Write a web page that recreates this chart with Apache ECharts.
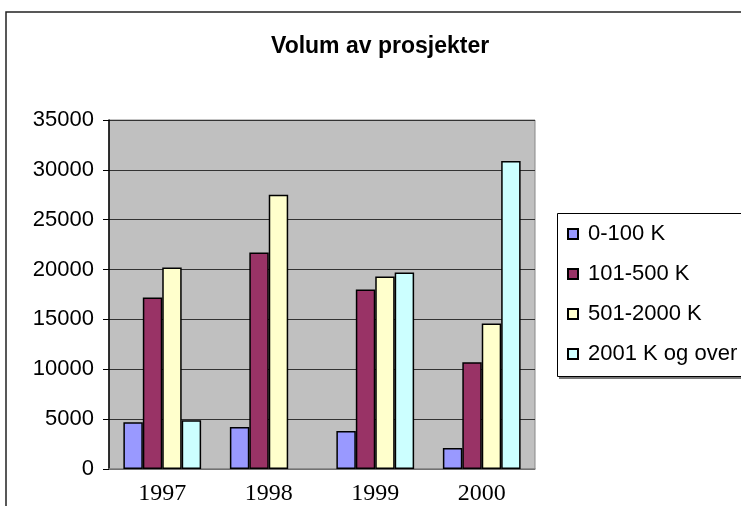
<!DOCTYPE html>
<html style="height: 100%">
<head>
	<meta charset="utf-8">
</head>
<body style="height: 100%; margin: 0; background: #fff">
	<div id="container" style="width: 741px; height: 506px"></div>
	<script type="text/javascript" src="https://cdn.jsdelivr.net/npm/echarts@6/dist/echarts.min.js"></script>
	<script type="text/javascript">
		var years = ['1997', '1998', '1999', '2000'];
		var names = ['0-100 K', '101-500 K', '501-2000 K', '2001 K og over'];
		var small = [4700, 4200, 3800, 2100];
		var medium = [17200, 21700, 18000, 10700];
		var large = [20200, 27500, 19300, 14600];
		var huge = [4900, null, 19700, 30900];
		var colors = ['#9999FF', '#993366', '#FFFFCC', '#CCFFFF'];

		var myChart = echarts.init(document.getElementById('container'));

		var seriesData = [small, medium, large, huge];
		var series = [];
		for (var i = 0; i < seriesData.length; i++) {
			series.push({
				name: names[i],
				type: 'bar',
				data: seriesData[i],
				barGap: '0%',
				barCategoryGap: '27%',
				itemStyle: {
					color: colors[i],
					borderColor: '#000',
					borderWidth: 1.5
				}
			});
		}

		var option = {
			animation: false,
			title: {
				text: 'Volum av prosjekter',
				left: 266,
				top: 30,
				textStyle: {
					fontFamily: 'Liberation Sans',
					fontWeight: 'bold',
					fontSize: 23,
					color: '#000'
				}
			},
			legend: {
				orient: 'vertical',
				left: 562,
				top: 218,
				itemWidth: 10,
				itemHeight: 10,
				itemGap: 18,
				icon: 'rect',
				textStyle: {
					fontFamily: 'Liberation Sans',
					fontSize: 22,
					color: '#000',
					padding: [0, 0, 0, 5]
				}
			},
			grid: {
				left: 109,
				right: 206,
				top: 120,
				bottom: 36,
				show: true,
				backgroundColor: '#C0C0C0',
				borderColor: '#888',
				borderWidth: 1
			},
			xAxis: {
				type: 'category',
				data: years,
				axisLine: { lineStyle: { color: '#888', width: 1.5 } },
				axisTick: { show: false },
				axisLabel: {
					fontFamily: 'Liberation Serif',
					fontSize: 24,
					color: '#000',
					margin: 13
				}
			},
			yAxis: {
				type: 'value',
				min: 0,
				max: 35000,
				interval: 5000,
				axisLine: { show: true, lineStyle: { color: '#000', width: 1.5 } },
				axisTick: { show: true, length: 6, lineStyle: { color: '#000' } },
				splitLine: { lineStyle: { color: '#333', width: 1 } },
				axisLabel: {
					fontFamily: 'Liberation Sans',
					fontSize: 22,
					color: '#000',
					margin: 15,
					formatter: function (v) { return String(v); }
				}
			},
			graphic: [
				{
					type: 'rect',
					shape: { x: 6, y: 12, width: 800, height: 600 },
					style: { fill: 'none', stroke: '#222', lineWidth: 1.5 },
					silent: true
				},
				{
					type: 'rect',
					shape: { x: 557.5, y: 213.5, width: 300, height: 163 },
					style: { fill: 'none', stroke: '#000', lineWidth: 1 },
					silent: true
				},
				{
					type: 'line',
					shape: { x1: 559, y1: 378, x2: 741, y2: 378 },
					style: { stroke: '#777', lineWidth: 2 },
					silent: true
				}
			],
			series: series
		};

		myChart.setOption(option);
	</script>
</body>
</html>
